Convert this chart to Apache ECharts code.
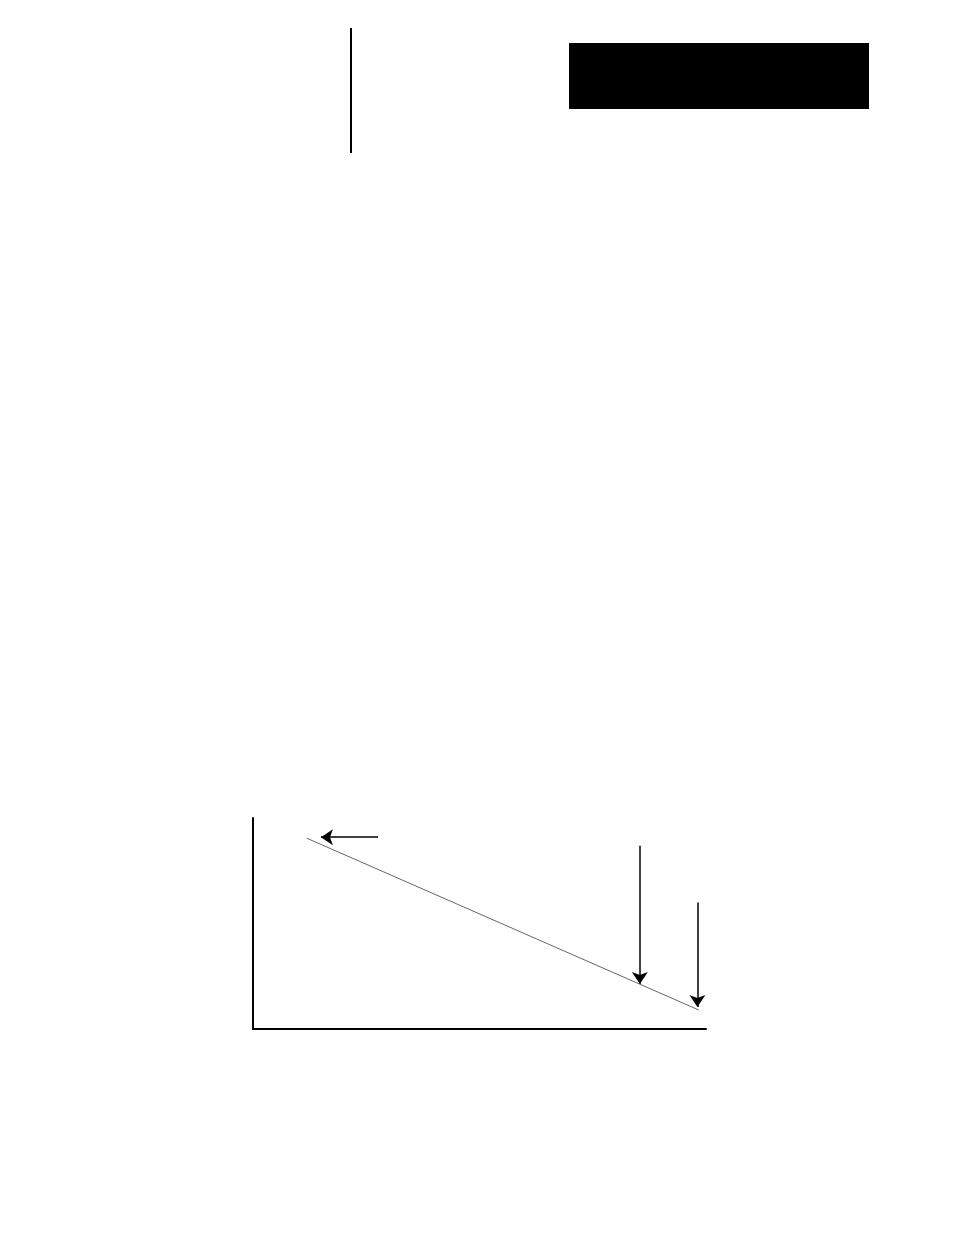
<!DOCTYPE html>
<html lang="en">
<head>
  <meta charset="UTF-8">
  <title>Chart</title>
  <script src="https://cdn.jsdelivr.net/npm/echarts@6/dist/echarts.min.js"></script>
  <style>
    html, body { margin: 0; padding: 0; background: #fff; }
    #chart { width: 954px; height: 1235px; }
  </style>
</head>
<body>
  <div id="chart"></div>
  <script>
    // sloped line: start and end points (x, y)
    const lineX = [11.9, 98.4];
    const lineY = [90.4, 9.0];

    // arrows: [fromX, fromY, toX, toY]
    const arrowLeft = [27.6, 90.9, 15.0, 90.9];
    const arrowMid = [85.4, 86.9, 85.4, 21.3];
    const arrowRight = [98.1, 59.9, 98.1, 10.4];

    const chart = echarts.init(document.getElementById('chart'));

    const toLine = a => ({ coords: [[a[0], a[1]], [a[2], a[3]]] });

    chart.setOption({
      animation: false,
      backgroundColor: '#fff',
      grid: { left: 253, top: 818, width: 453, height: 211 },
      xAxis: {
        type: 'value', min: 0, max: 100,
        axisLine: { show: true, onZero: false, lineStyle: { color: '#000', width: 2 } },
        axisTick: { show: false }, axisLabel: { show: false }, splitLine: { show: false }
      },
      yAxis: {
        type: 'value', min: 0, max: 100,
        axisLine: { show: true, onZero: false, lineStyle: { color: '#000', width: 2 } },
        axisTick: { show: false }, axisLabel: { show: false }, splitLine: { show: false }
      },
      // page furniture: vertical rule and black header block
      graphic: [
        { type: 'rect', shape: { x: 350, y: 28, width: 2, height: 125 }, style: { fill: '#000' } },
        { type: 'rect', shape: { x: 569, y: 43, width: 300, height: 66 }, style: { fill: '#000' } }
      ],
      series: [
        {
          type: 'line',
          data: lineX.map((x, i) => [x, lineY[i]]),
          symbol: 'none',
          lineStyle: { color: '#666', width: 1 }
        },
        {
          type: 'lines',
          coordinateSystem: 'cartesian2d',
          symbol: ['none', 'arrow'],
          symbolSize: [7, 12],
          lineStyle: { color: '#000', width: 1.5, opacity: 1 },
          data: [arrowLeft, arrowMid, arrowRight].map(toLine)
        }
      ]
    });
  </script>
</body>
</html>
